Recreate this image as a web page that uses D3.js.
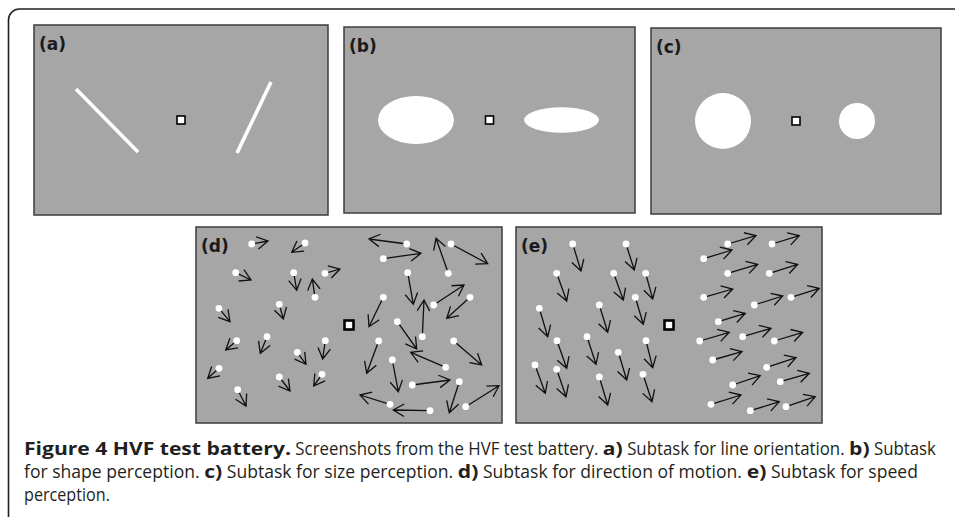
<!DOCTYPE html>
<html>
<head>
<meta charset="utf-8">
<script src="https://cdn.jsdelivr.net/npm/d3@7"></script>
<style>
  body { margin: 0; background: #fff; }
  svg { display: block; }
</style>
</head>
<body>
<div id="fig"></div>
<script>
// stimulus coordinates are px relative to the fixation square (panel centre)
const panelLabels = ["(a)", "(b)", "(c)", "(d)", "(e)"];

// (a) line orientation: [x1, y1, x2, y2]
const orientationBars = [
  [-105, -31, -43, 32],
  [90, -38, 56, 33],
];

// (b) shape: [cx, cy, rx, ry]
const shapeEllipses = [
  [-73.5, 0, 38, 24],
  [72, 0, 37.5, 12.7],
];

// (c) size: [cx, cy, r]
const sizeDiscs = [
  [-73, 0, 28],
  [61, 0, 18],
];

// (d) direction of motion: [dotX, dotY, tipX, tipY]
const directionDots = [
  [-97.3, -81, -81, -84], [-44, -82, -57.3, -72.7], [-113.3, -52.3, -98, -45],
  [-55.3, -52.3, -52.3, -34.7], [-34, -27.7, -36.7, -46], [-24, -51.7, -9, -56],
  [-130, -16.7, -119, -3.3], [-69.7, -20.7, -65.7, -6], [-112.3, 15.7, -123.3, 25],
  [-82, 11.7, -88.7, 28.3], [-23.7, 15.7, -26.3, 34], [-51.7, 27.3, -43, 39.3],
  [-130, 43.3, -141.3, 53.3], [-27, 49.3, -35.3, 61], [-69.7, 52, -59, 66],
  [-111.3, 64.7, -103, 81],
  [57.7, -81, 20, -86], [34.3, -66.3, 72, -71.7], [102, -81, 138.7, -61.3],
  [99.3, -51.7, 87, -86.7], [58.7, -52.3, 64.3, -20.7], [34.3, -27.7, 20, 1.7],
  [84.7, -20, 115, -40], [121, -27.7, 97.7, -6.7], [48.3, -3.3, 67.7, 24],
  [73.3, 11.7, 75, -25], [29.7, 16, 17.7, 48.3], [104.7, 16, 132.7, 40],
  [96.7, 42.3, 61.7, 27.3], [43.3, 35, 49.3, 66.7], [63.3, 60, 101, 55],
  [110.3, 56.7, 100.3, 87.7], [116.7, 81.7, 150, 60.7], [41, 79.3, 11, 70],
  [81, 85.7, 44.3, 85],
];

// (e) speed: [dotX, dotY, tipX, tipY]
const speedDots = [
  [-96.3, -81, -88, -54], [-43, -81, -34.7, -55], [-112.3, -51.7, -102.3, -24],
  [-55.3, -51.7, -45.7, -25], [-23.3, -51.7, -16.3, -26], [-33.7, -27.7, -25.7, -0.7],
  [-129.7, -16.7, -121.3, 11.7], [-69.7, -20, -61.3, 7.3], [-112, 15.7, -102.3, 43.3],
  [-82, 11.7, -73, 39.3], [-23, 15.7, -16.3, 42.7], [-50.7, 27.3, -42.3, 55],
  [-134, 40, -123.7, 68.3], [-112.3, 44.3, -103, 71.7], [-69.7, 52, -61.3, 80],
  [-26, 49.3, -17, 76.7],
  [58.7, -81, 87, -89.3], [103, -81, 130.3, -89.3], [34.7, -66.3, 63, -75],
  [58.7, -51.7, 88.7, -60.7], [100.3, -51.7, 128.7, -60.7], [34.7, -27.7, 63.7, -36],
  [85.3, -20, 113.7, -29], [122, -27.7, 150.3, -36.7], [49.3, -3.3, 76.3, -11.7],
  [73.7, 11.7, 102, 3.3], [30.7, 16, 60.3, 7.3], [105.3, 16, 133.7, 7.3],
  [43.7, 35, 73, 26.7], [97.7, 42.3, 127, 32.7], [63.7, 60, 91.3, 50.7],
  [111.3, 56.7, 140.3, 48.3], [42, 79.3, 72, 70], [81.3, 85.7, 110.3, 76.7],
  [117, 81.7, 146.3, 71.7],
];

const captionLines = [
  [["Figure 4 HVF test battery.", true], [" Screenshots from the HVF test battery. ", false],
   ["a)", true], [" Subtask for line orientation. ", false], ["b)", true], [" Subtask", false]],
  [["for shape perception. ", false], ["c)", true], [" Subtask for size perception. ", false],
   ["d)", true], [" Subtask for direction of motion. ", false], ["e)", true],
   [" Subtask for speed", false]],
  [["perception.", false]],
];

const width = 955, height = 517;

const svg = d3.select("#fig").append("svg")
    .attr("width", width)
    .attr("height", height);

svg.append("rect").attr("width", width).attr("height", height).attr("fill", "#fff");

// outer figure frame (rounded top-left corner, open right/bottom)
svg.append("path")
    .attr("d", "M8.5,517 L8.5,20 A11,11 0 0 1 19.5,9 L955,9")
    .attr("fill", "none")
    .attr("stroke", "#231f20")
    .attr("stroke-width", 1.6);

const layout = [
  {x: 34, y: 25, w: 294, h: 190},
  {x: 344, y: 27, w: 291, h: 186},
  {x: 651, y: 28, w: 290, h: 186},
  {x: 196, y: 227, w: 306, h: 196},
  {x: 516, y: 227, w: 306, h: 196},
];

const panels = layout.map((p, i) => {
  const g = svg.append("g");
  const x = d3.scaleLinear().domain([-p.w / 2, p.w / 2]).range([p.x, p.x + p.w]);
  const y = d3.scaleLinear().domain([-p.h / 2, p.h / 2]).range([p.y, p.y + p.h]);
  g.append("rect")
      .attr("x", p.x).attr("y", p.y)
      .attr("width", p.w).attr("height", p.h)
      .attr("fill", "#a6a6a6")
      .attr("stroke", "#3c3c3c")
      .attr("stroke-width", 1.5);
  g.append("text")
      .attr("x", p.x + 5)
      .attr("y", p.y + 25)
      .attr("font-family", "DejaVu Sans, sans-serif")
      .attr("font-weight", "bold")
      .attr("font-size", 17)
      .attr("fill", "#1a1a1a")
      .text(panelLabels[i]);
  return {g, x, y, motion: i >= 3};
});

// fixation squares
panels.forEach(p => {
  const s = p.motion ? 9 : 8;
  p.g.append("rect")
      .attr("x", p.x(0) - s / 2).attr("y", p.y(0) - s / 2)
      .attr("width", s).attr("height", s)
      .attr("fill", "#fff")
      .attr("stroke", "#000")
      .attr("stroke-width", p.motion ? 2.6 : 1.6);
});

// (a)
panels[0].g.selectAll("line.bar")
  .data(orientationBars)
  .enter().append("line")
    .attr("class", "bar")
    .attr("x1", d => panels[0].x(d[0])).attr("y1", d => panels[0].y(d[1]))
    .attr("x2", d => panels[0].x(d[2])).attr("y2", d => panels[0].y(d[3]))
    .attr("stroke", "#fff")
    .attr("stroke-width", 3.6);

// (b)
panels[1].g.selectAll("ellipse")
  .data(shapeEllipses)
  .enter().append("ellipse")
    .attr("cx", d => panels[1].x(d[0])).attr("cy", d => panels[1].y(d[1]))
    .attr("rx", d => d[2]).attr("ry", d => d[3])
    .attr("fill", "#fff");

// (c)
panels[2].g.selectAll("circle")
  .data(sizeDiscs)
  .enter().append("circle")
    .attr("cx", d => panels[2].x(d[0])).attr("cy", d => panels[2].y(d[1]))
    .attr("r", d => d[2])
    .attr("fill", "#fff");

// (d), (e) moving dots with open arrowheads
function arrowPath(p, d) {
  const x0 = p.x(d[0]), y0 = p.y(d[1]), x1 = p.x(d[2]), y1 = p.y(d[3]);
  const a = Math.atan2(y1 - y0, x1 - x0);
  const L = 12.5, phi = Math.PI / 6;
  const ax = x1 - L * Math.cos(a - phi), ay = y1 - L * Math.sin(a - phi);
  const bx = x1 - L * Math.cos(a + phi), by = y1 - L * Math.sin(a + phi);
  return `M${x0},${y0}L${x1},${y1}M${ax},${ay}L${x1},${y1}L${bx},${by}`;
}

[[panels[3], directionDots], [panels[4], speedDots]].forEach(([p, dots]) => {
  p.g.selectAll("path.arrow")
    .data(dots)
    .enter().append("path")
      .attr("class", "arrow")
      .attr("d", d => arrowPath(p, d))
      .attr("fill", "none")
      .attr("stroke", "#111")
      .attr("stroke-width", 1.3)
      .attr("stroke-linejoin", "miter");
  p.g.selectAll("circle.dot")
    .data(dots)
    .enter().append("circle")
      .attr("class", "dot")
      .attr("cx", d => p.x(d[0])).attr("cy", d => p.y(d[1]))
      .attr("r", 3.4)
      .attr("fill", "#fff");
});

// caption: bold runs widened to the original's bold face, regular runs condensed to fit
const captionBase = [454.5, 477.5, 500.5];
const captionRight = [936, 918, 110];
const titleRight = 291;   // where "Figure 4 HVF test battery." ends
let boldScale = null;
captionLines.forEach((segs, i) => {
  const line = svg.append("g");
  const runs = segs.map(s => {
    const t = line.append("text")
        .attr("font-family", "Open Sans, sans-serif")
        .attr("font-size", 17.5)
        .attr("font-weight", s[1] ? "bold" : "normal")
        .attr("fill", "#231f20")
        .style("white-space", "pre")
        .text(s[0]);
    return {t, bold: s[1], w: t.node().getComputedTextLength()};
  });
  if (boldScale === null) boldScale = (titleRight - 24) / runs[0].w;
  const B = d3.sum(runs.filter(r => r.bold), r => r.w);
  const N = d3.sum(runs.filter(r => !r.bold), r => r.w);
  const kn = (captionRight[i] - 24 - boldScale * B) / N;
  let x = 24;
  runs.forEach(r => {
    const k = r.bold ? boldScale : kn;
    r.t.attr("transform", `translate(${x},${captionBase[i]}) scale(${k},1)`);
    x += r.w * k;
  });
});
</script>
</body>
</html>
